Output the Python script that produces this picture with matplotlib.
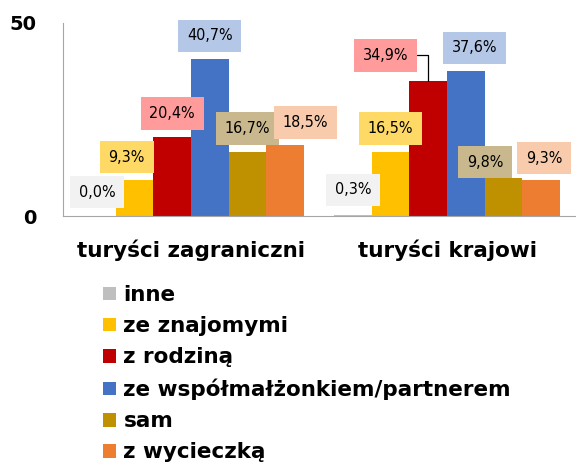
import matplotlib
matplotlib.use("Agg")
import matplotlib.pyplot as plt
from matplotlib.patches import Patch
import numpy as np

categories = ["turyści zagraniczni", "turyści krajowi"]
series = ["inne", "ze znajomymi", "z rodziną", "ze współmałżonkiem/partnerem", "sam", "z wycieczką"]
values = {
    "inne": [0.0, 0.3],
    "ze znajomymi": [9.3, 16.5],
    "z rodziną": [20.4, 34.9],
    "ze współmałżonkiem/partnerem": [40.7, 37.6],
    "sam": [16.7, 9.8],
    "z wycieczką": [18.5, 9.3],
}
labels = {
    "inne": ["0,0%", "0,3%"],
    "ze znajomymi": ["9,3%", "16,5%"],
    "z rodziną": ["20,4%", "34,9%"],
    "ze współmałżonkiem/partnerem": ["40,7%", "37,6%"],
    "sam": ["16,7%", "9,8%"],
    "z wycieczką": ["18,5%", "9,3%"],
}
bar_colors = ["#BFBFBF", "#FFC000", "#C00000", "#4472C4", "#BF9000", "#ED7D31"]
box_colors = ["#F2F2F2", "#FFD966", "#FF9B9B", "#B4C7E7", "#C9B88E", "#F8CBAD"]
# label offsets in pixels (dx, dy) from bar top center
offsets = {
    "inne": [(0, 24), (0, 25)],
    "ze znajomymi": [(-8, 23), (0, 24)],
    "z rodziną": [(0, 24), (-43, 26)],
    "ze współmałżonkiem/partnerem": [(0, 23), (9, 23)],
    "sam": [(0, 23), (-18, 16)],
    "z wycieczką": [(20, 22), (3, 22)],
}

fig = plt.figure(figsize=(5.76, 4.69), dpi=100)
ax = fig.add_axes([63/576, 1-216/469, 512/576, 193/469])

x = np.arange(len(categories))
w = 0.147
n = len(series)
for i, s in enumerate(series):
    xs = x + (i - (n-1)/2) * w
    ax.bar(xs, values[s], width=w, color=bar_colors[i], edgecolor="none", zorder=2)
    for j in range(len(categories)):
        dx, dy = offsets[s][j]
        ap = None
        if s == "z rodziną" and j == 1:
            ap = dict(arrowstyle="-", color="black", lw=0.9,
                      connectionstyle="angle,angleA=0,angleB=90,rad=0",
                      shrinkA=0, shrinkB=0)
        ax.annotate(labels[s][j], xy=(xs[j], values[s][j]), xytext=(dx, dy),
                    textcoords="offset pixels", ha="center", va="center",
                    fontsize=11.5, family="DejaVu Sans", fontstretch="condensed",
                    color="black",
                    bbox=dict(boxstyle="square,pad=0.55", fc=box_colors[i], ec="none"),
                    arrowprops=ap, zorder=3)

ax.set_xlim(-0.5, 1.5)
ax.set_ylim(0, 50)
ax.set_yticks([0, 50])
ax.set_yticklabels(["0", "50"], fontsize=14, fontweight="bold")
ax.set_xticks(x)
ax.set_xticklabels(categories, fontsize=15.5, fontweight="bold")
ax.tick_params(axis="both", length=0)
ax.tick_params(axis="y", pad=19)
ax.tick_params(axis="x", pad=17)
for sp in ["top", "right"]:
    ax.spines[sp].set_visible(False)
ax.spines["left"].set_color("#A6A6A6")
ax.spines["bottom"].set_color("#A6A6A6")

handles = [Patch(facecolor=c, edgecolor="none") for c in bar_colors]
fig.legend(handles, series, loc="upper left", bbox_to_anchor=(103/576, 1-285/469),
           frameon=False, prop=dict(size=15.5, weight="bold"),
           handlelength=0.6, handleheight=0.6,
           handletextpad=0.35, labelspacing=0.52, borderpad=0, borderaxespad=0)

fig.savefig("out.png", dpi=100)
